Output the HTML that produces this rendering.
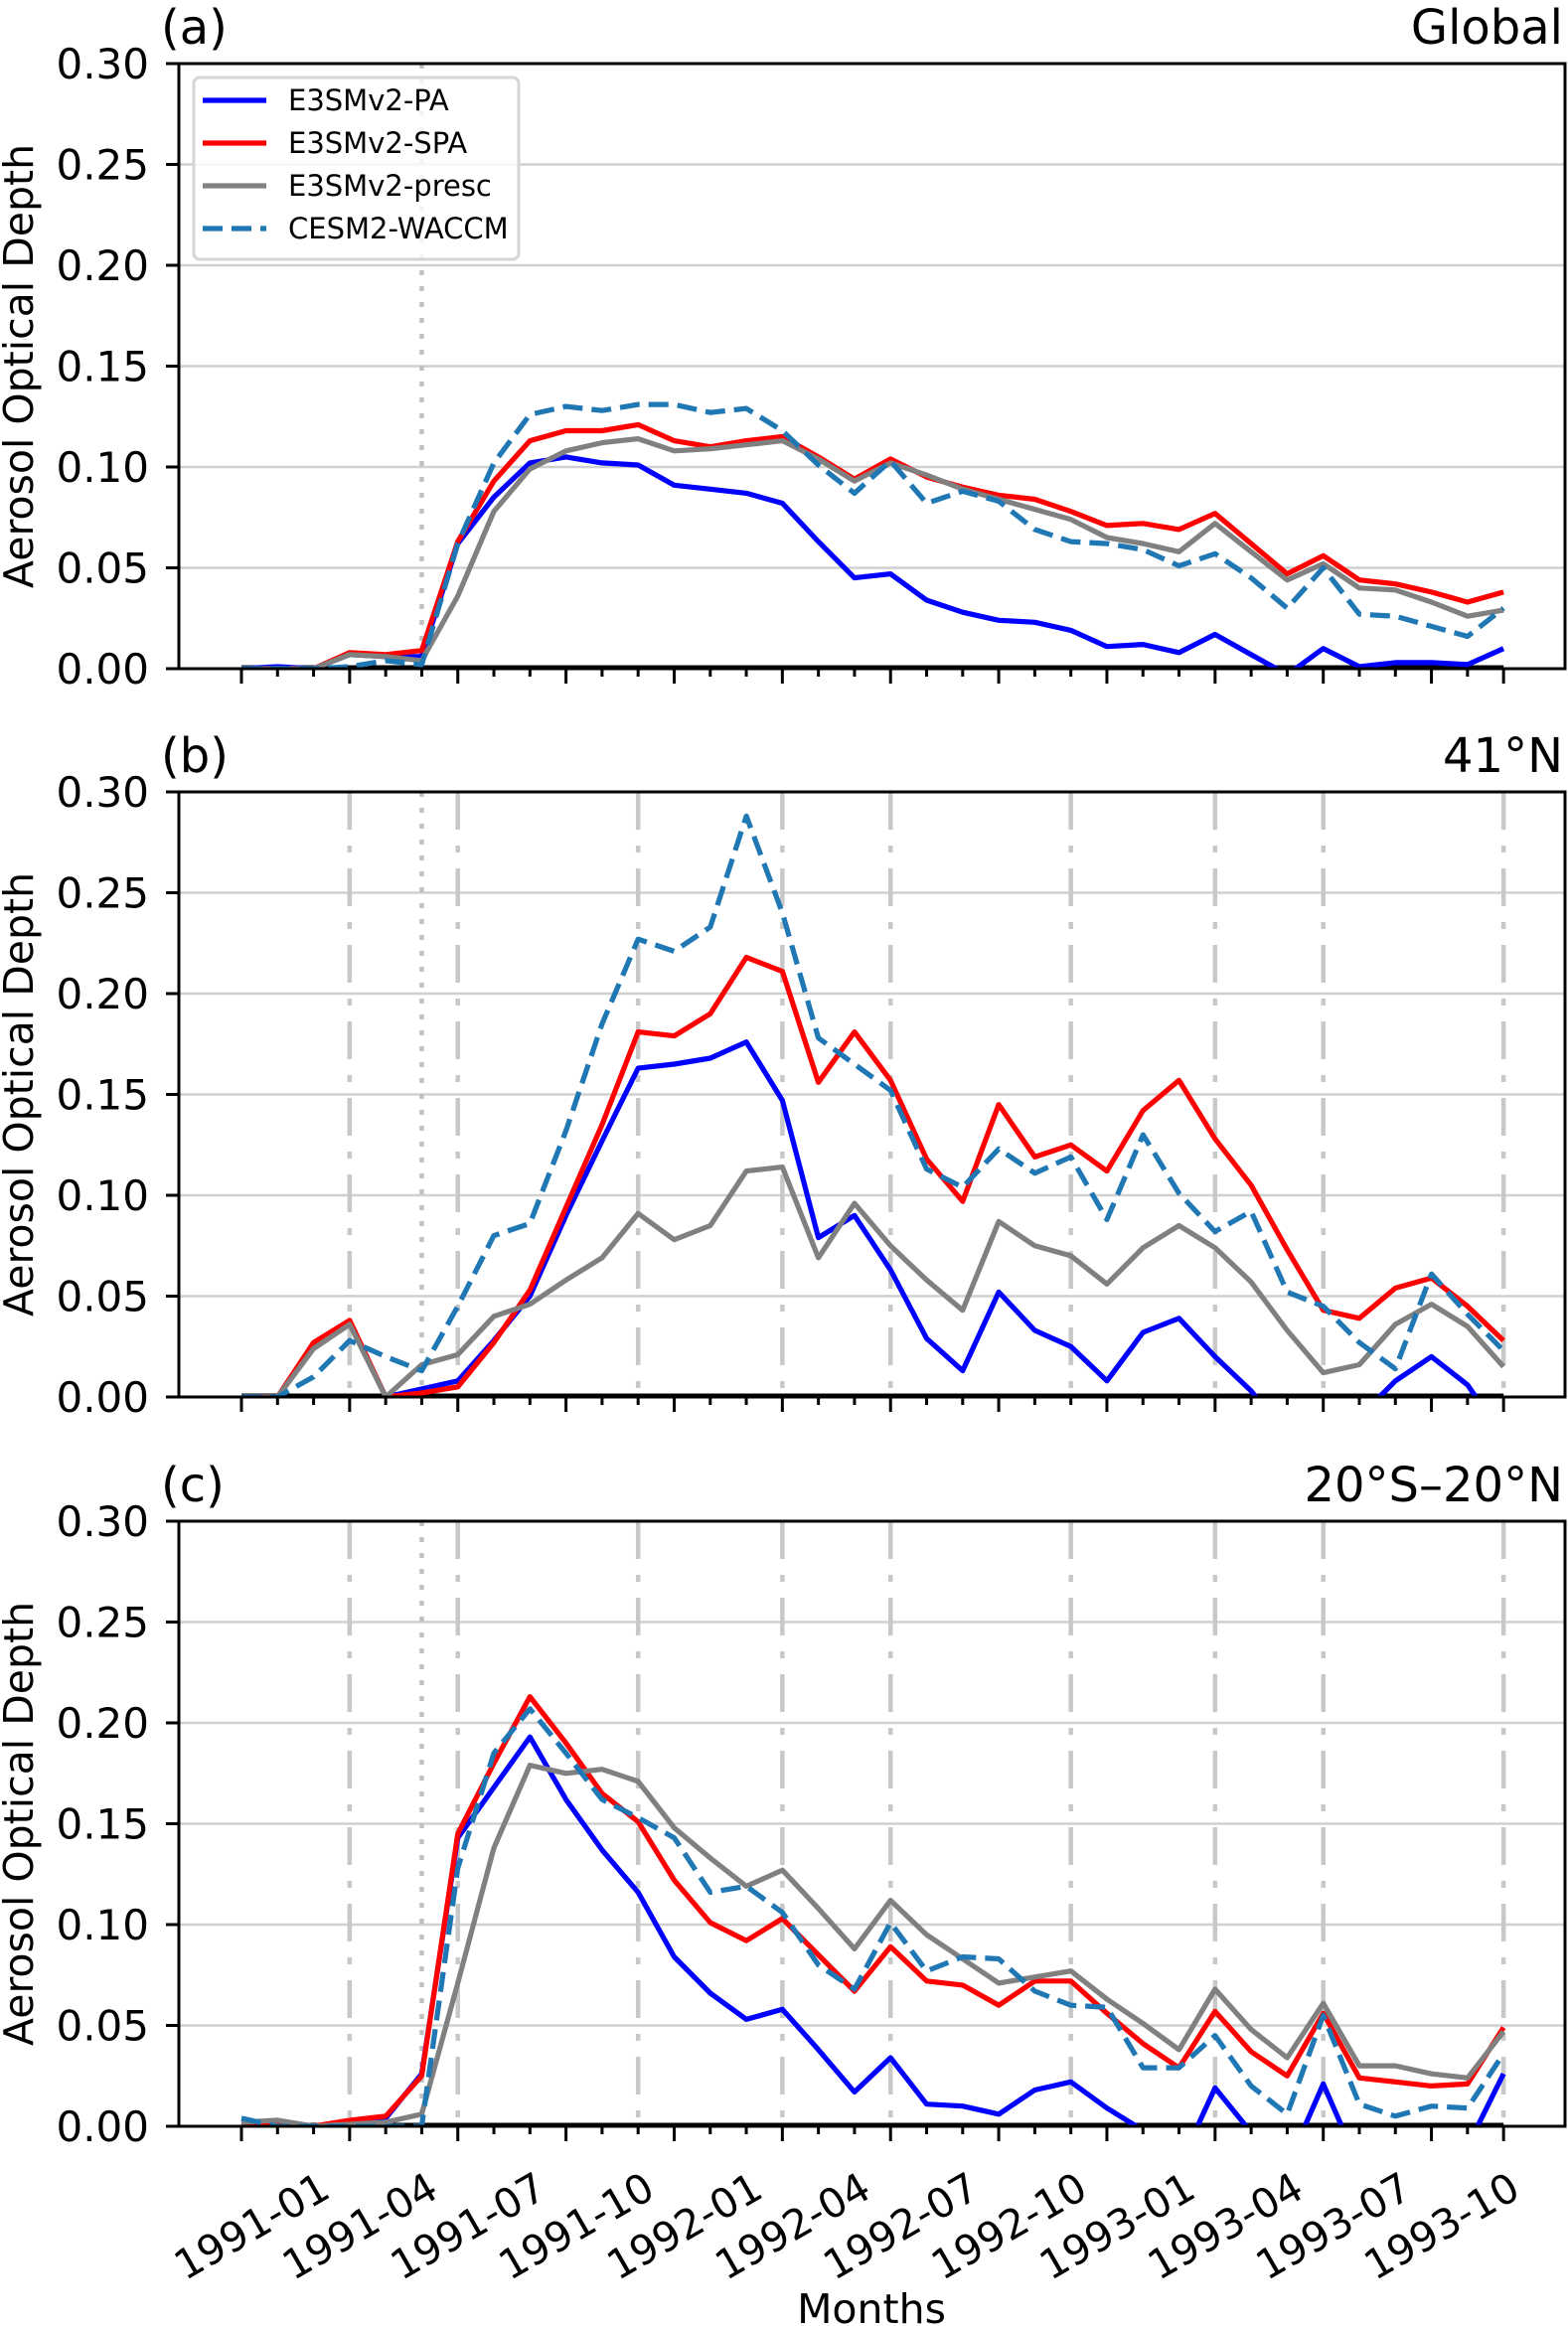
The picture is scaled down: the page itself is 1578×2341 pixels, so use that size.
<!DOCTYPE html>
<html><head><meta charset="utf-8">
<style>
html,body{margin:0;padding:0;background:#fff;}
svg{display:block;font-family:"DejaVu Sans","Liberation Sans",sans-serif;}
</style></head>
<body>
<svg id="fig" width="1578" height="2341" viewBox="0 0 1578 2341" xmlns="http://www.w3.org/2000/svg"></svg>
<script>
const months = ["1991-01","1991-04","1991-07","1991-10","1992-01","1992-04","1992-07","1992-10","1993-01","1993-04","1993-07","1993-10"];
const monthLabelIdx = [2,5,8,11,14,17,20,23,26,29,32,35];
const majorTickIdx = [0,3,6,9,12,15,18,21,24,27,30,33,35];
const yTicks = [0,0.05,0.10,0.15,0.20,0.25,0.30];
const yTickLabels = ["0.00","0.05","0.10","0.15","0.20","0.25","0.30"];
const seriesNames = ["E3SMv2-PA","E3SMv2-SPA","E3SMv2-presc","CESM2-WACCM"];
const eruptionIdx = 5;
const vlineIdx = [3,6,11,15,18,23,27,30,35];

const globalPA = [0,0.001,0,0.007,0.006,0.006,0.062,0.085,0.102,0.105,0.102,0.101,0.091,0.089,0.087,0.082,0.063,0.045,0.047,0.034,0.028,0.024,0.023,0.019,0.011,0.012,0.008,0.017,0.007,-0.003,0.010,0.001,0.003,0.003,0.002,0.010];
const globalSPA = [0,0,0,0.008,0.007,0.009,0.063,0.093,0.113,0.118,0.118,0.121,0.113,0.110,0.113,0.115,0.105,0.094,0.104,0.095,0.090,0.086,0.084,0.078,0.071,0.072,0.069,0.077,0.062,0.047,0.056,0.044,0.042,0.038,0.033,0.038];
const globalPresc = [0,0,0,0.007,0.006,0.004,0.036,0.078,0.099,0.108,0.112,0.114,0.108,0.109,0.111,0.113,0.104,0.093,0.102,0.096,0.089,0.084,0.079,0.074,0.065,0.062,0.058,0.072,0.058,0.044,0.052,0.040,0.039,0.033,0.026,0.029];
const globalCESM = [0,0,0,0.001,0.004,0.002,0.062,0.102,0.126,0.130,0.128,0.131,0.131,0.127,0.129,0.118,0.101,0.087,0.103,0.082,0.088,0.083,0.069,0.063,0.062,0.059,0.051,0.057,0.045,0.030,0.050,0.027,0.026,0.021,0.016,0.030];

const n41PA = [0,0,0.025,0.037,0,0.004,0.008,0.028,0.050,0.090,0.127,0.163,0.165,0.168,0.176,0.147,0.079,0.090,0.063,0.029,0.013,0.052,0.033,0.025,0.008,0.032,0.039,0.020,0.003,-0.02,-0.02,-0.01,0.008,0.020,0.006,-0.02];
const n41SPA = [0,0,0.027,0.038,0,0.002,0.005,0.027,0.053,0.094,0.135,0.181,0.179,0.190,0.218,0.211,0.156,0.181,0.157,0.118,0.097,0.145,0.119,0.125,0.112,0.142,0.157,0.128,0.105,0.073,0.043,0.039,0.054,0.059,0.045,0.028];
const n41Presc = [0,0,0.024,0.036,0,0.016,0.021,0.040,0.046,0.058,0.069,0.091,0.078,0.085,0.112,0.114,0.069,0.096,0.075,0.058,0.043,0.087,0.075,0.070,0.056,0.074,0.085,0.074,0.057,0.033,0.012,0.016,0.036,0.046,0.035,0.015];
const n41CESM = [0,0,0.010,0.028,0.020,0.013,0.045,0.080,0.086,0.132,0.185,0.227,0.221,0.233,0.288,0.240,0.178,0.165,0.152,0.113,0.104,0.123,0.111,0.119,0.088,0.130,0.101,0.082,0.092,0.052,0.045,0.027,0.014,0.061,0.041,0.023];

const tropPA = [0.001,0.002,0,0.002,0.004,0.026,0.143,0.168,0.193,0.162,0.137,0.116,0.084,0.066,0.053,0.058,0.038,0.017,0.034,0.011,0.010,0.006,0.018,0.022,0.009,-0.002,-0.02,0.019,-0.003,-0.02,0.021,-0.02,-0.02,-0.02,-0.01,0.026];
const tropSPA = [0,0.001,0,0.003,0.005,0.025,0.145,0.180,0.213,0.190,0.165,0.151,0.122,0.101,0.092,0.103,0.085,0.067,0.089,0.072,0.070,0.060,0.072,0.072,0.056,0.041,0.029,0.057,0.037,0.025,0.056,0.024,0.022,0.020,0.021,0.049];
const tropPresc = [0.002,0.003,0,0.001,0.002,0.006,0.071,0.138,0.179,0.175,0.177,0.171,0.148,0.133,0.119,0.127,0.108,0.088,0.112,0.095,0.083,0.071,0.074,0.077,0.063,0.051,0.038,0.068,0.048,0.034,0.061,0.030,0.030,0.026,0.024,0.047];
const tropCESM = [0.004,0,0,0,0,0,0.128,0.185,0.207,0.185,0.162,0.153,0.143,0.116,0.119,0.106,0.080,0.068,0.101,0.077,0.084,0.083,0.067,0.060,0.059,0.029,0.029,0.045,0.020,0.006,0.055,0.011,0.005,0.010,0.009,0.036];

const NS="http://www.w3.org/2000/svg";
const svg=document.getElementById('fig');
const X0=180, X1=1575, PX0=243, DX=36.29, YMAX=0.30;
const colors=["#0000ff","#ff0000","#808080","#1f77b4"];
function mk(tag,attrs,parent){const e=document.createElementNS(NS,tag);for(const k in attrs)e.setAttribute(k,attrs[k]);(parent||svg).appendChild(e);return e;}
function xs(i){return PX0+i*DX;}

const panels=[
 {top:64,bot:673,tag:"(a)",region:"Global",data:[globalPA,globalSPA,globalPresc,globalCESM],vlines:false,legend:true,xlabels:false,key:"global"},
 {top:797,bot:1406,tag:"(b)",region:"41°N",data:[n41PA,n41SPA,n41Presc,n41CESM],vlines:true,legend:false,xlabels:false,key:"41n"},
 {top:1531,bot:2140,tag:"(c)",region:"20°S–20°N",data:[tropPA,tropSPA,tropPresc,tropCESM],vlines:true,legend:false,xlabels:true,key:"tropics"}
];

panels.forEach((p,pi)=>{
  const g=mk('g',{});
  
  
  const ys=v=>p.bot-(v/YMAX)*(p.bot-p.top);
  const cid='clip'+pi;
  const cp=mk('clipPath',{id:cid},g);
  mk('rect',{x:X0,y:p.top,width:X1-X0,height:p.bot-p.top},cp);
  yTicks.forEach((t,k)=>{
    if(k>0&&k<yTicks.length-1){
      const l=mk('line',{x1:X0,x2:X1,y1:ys(t),y2:ys(t),stroke:"#d0d0d0","stroke-width":2.5},g);
      
      
    }
  });
  if(p.vlines){
    vlineIdx.forEach(i=>{
      const l=mk('line',{x1:xs(i),x2:xs(i),y1:p.top,y2:p.bot,stroke:"#c8c8c8","stroke-width":4.5,"stroke-dasharray":"38 16 7 16"},g);
      
      
    });
  }
  const ev=mk('line',{x1:xs(eruptionIdx),x2:xs(eruptionIdx),y1:p.top,y2:p.bot,stroke:"#c0c0c0","stroke-width":4.5,"stroke-dasharray":"5 11"},g);
  
  
  const z=mk('line',{x1:PX0,x2:xs(35),y1:p.bot-1,y2:p.bot-1,stroke:"#000","stroke-width":5},g);
  
  
  [0,1,2,3].forEach(s=>{
    const d=p.data[s].map((v,i)=>(i?'L':'M')+xs(i).toFixed(1)+' '+ys(v).toFixed(1)).join(' ');
    const attrs={d:d,fill:"none",stroke:colors[s],"stroke-width":5.2,"stroke-linejoin":"round","clip-path":"url(#"+cid+")"};
    if(s===3){attrs["stroke-dasharray"]="20 9";}
    const path=mk('path',attrs,g);
    
    
  });
  const fr=mk('rect',{x:X0,y:p.top,width:X1-X0,height:p.bot-p.top,fill:"none",stroke:"#000","stroke-width":3},g);
  
  
  yTicks.forEach((t,k)=>{
    mk('line',{x1:X0-13,x2:X0,y1:ys(t),y2:ys(t),stroke:"#000","stroke-width":3},g);
    const tx=mk('text',{x:150,y:ys(t)+15,"text-anchor":"end","font-size":42},g);
    tx.textContent=yTickLabels[k];
    
    
  });
  for(let i=0;i<=35;i++){
    const major=majorTickIdx.indexOf(i)>=0;
    mk('line',{x1:xs(i),x2:xs(i),y1:p.bot,y2:p.bot+(major?15:8),stroke:"#000","stroke-width":3},g);
  }
  if(p.xlabels){
    monthLabelIdx.forEach((i,k)=>{
      const tx=mk('text',{x:0,y:0,"text-anchor":"end","font-size":41,transform:"translate("+(xs(i)+19)+","+(p.bot+70)+") rotate(-30)"},g);
      tx.textContent=months[k];
      
      
    });
  }
  const yl=mk('text',{x:0,y:0,"text-anchor":"middle","font-size":41,transform:"translate(33,"+((p.top+p.bot)/2)+") rotate(-90)"},g);
  yl.textContent="Aerosol Optical Depth";
  
  
  const tl=mk('text',{x:162,y:p.top-20,"font-size":48},g);
  tl.textContent=p.tag;
  
  
  const tr=mk('text',{x:1573,y:p.top-20,"text-anchor":"end","font-size":48},g);
  tr.textContent=p.region;
  
  
  if(p.legend){
    const lg=mk('g',{},g);
    
    
    mk('rect',{x:195,y:78,width:327,height:183,rx:6,fill:"#fff","fill-opacity":0.8,stroke:"#d5d5d5","stroke-width":3},lg);
    seriesNames.forEach((nm,s)=>{
      const y=101+s*43;
      const la={x1:204,x2:268,y1:y,y2:y,stroke:colors[s],"stroke-width":5.2};
      if(s===3)la["stroke-dasharray"]="20 9";
      const ln=mk('line',la,lg);
      
      
      const t=mk('text',{x:290,y:y+10,"font-size":29},lg);
      t.textContent=nm;
      
      
    });
  }
});
const xl=mk('text',{x:877,y:2338,"text-anchor":"middle","font-size":41});
xl.textContent="Months";


</script>
</body></html>
